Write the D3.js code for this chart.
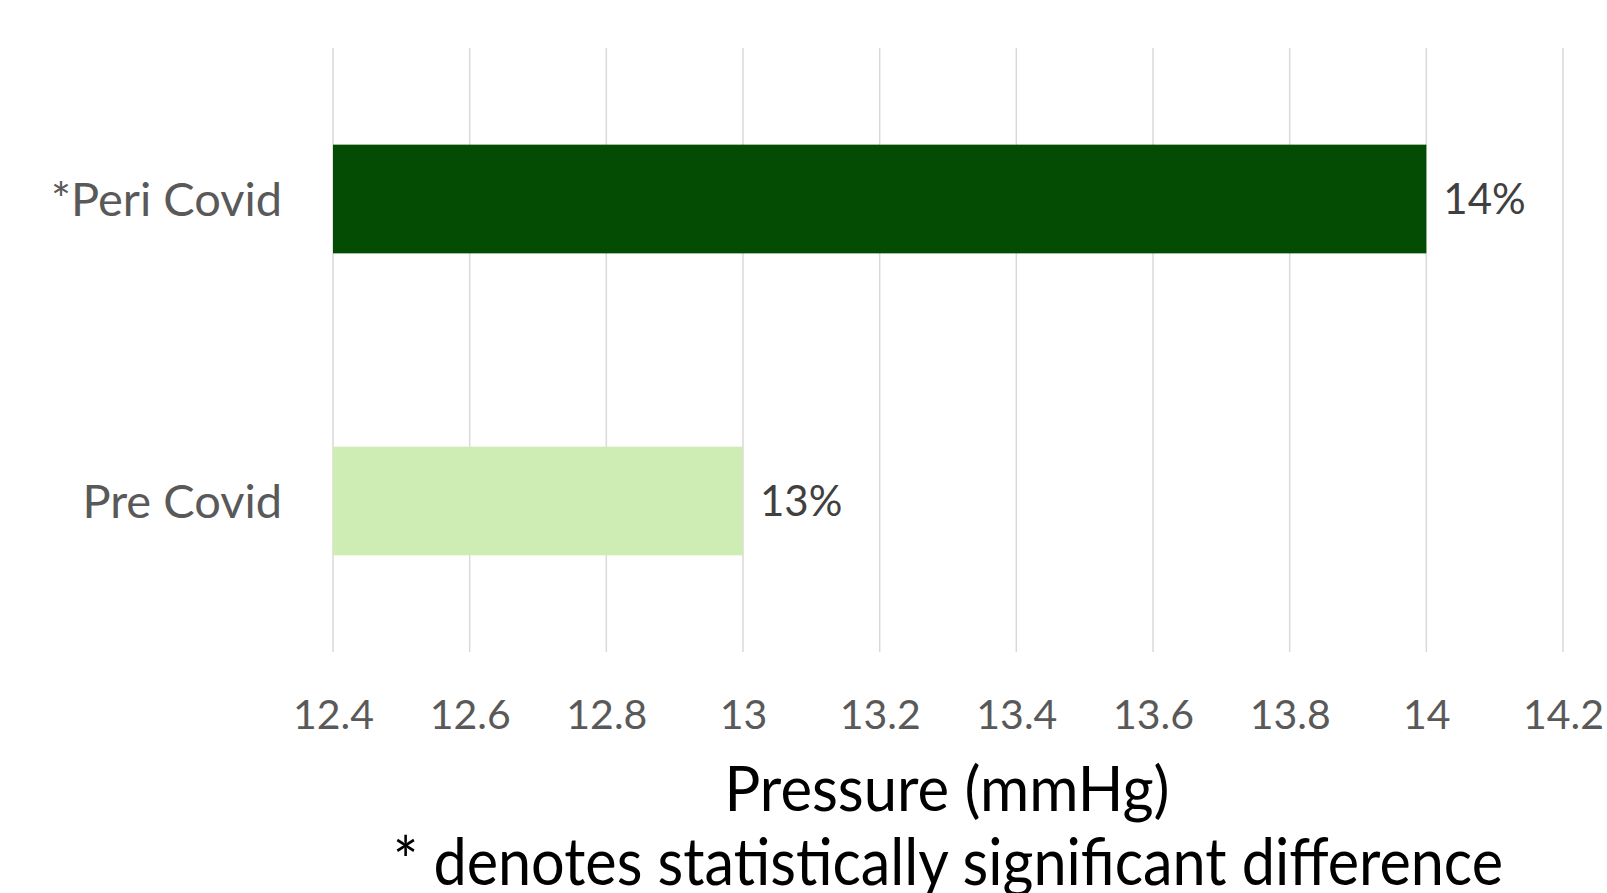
<!DOCTYPE html>
<html><head><meta charset="UTF-8"><style>
body { margin: 0; background: #fff; }
text { font-family: Lato, "Open Sans", sans-serif; }
</style>
</head>
<body>
<svg width="1607" height="893"></svg>
<script src="https://cdn.jsdelivr.net/npm/d3@7"></script>
<script>

var categories = ["*Peri Covid", "Pre Covid"];
var values = [14, 13];
var valueLabels = ["14%", "13%"];
var colors = ["#044c04", "#cdedb4"];
var ticks = [12.4, 12.6, 12.8, 13, 13.2, 13.4, 13.6, 13.8, 14, 14.2];
var xTitle = "Pressure (mmHg)";
var note = "* denotes statistically significant difference";

var svg = d3.select("svg"),
    margin = {top: 48, right: 44, bottom: 241, left: 333},
    width = +svg.attr("width") - margin.left - margin.right,
    height = +svg.attr("height") - margin.top - margin.bottom,
    g = svg.append("g").attr("transform", "translate(" + margin.left + "," + margin.top + ")");

var x = d3.scaleLinear()
    .domain([12.4, 14.2])
    .range([0, width]);

var y = d3.scaleBand()
    .domain(categories)
    .range([0, height])
    .paddingInner(0.64)
    .paddingOuter(0.32);

// gridlines
g.append("g")
  .selectAll("line")
  .data(ticks)
  .enter().append("line")
    .attr("x1", function(d) { return x(d); })
    .attr("x2", function(d) { return x(d); })
    .attr("y1", 0)
    .attr("y2", height)
    .attr("stroke", "#d9d9d9")
    .attr("stroke-width", 1.5);

// bars
g.append("g")
  .selectAll("rect")
  .data(categories)
  .enter().append("rect")
    .attr("x", x(12.4))
    .attr("y", function(d) { return y(d); })
    .attr("width", function(d, i) { return x(values[i]) - x(12.4); })
    .attr("height", y.bandwidth())
    .attr("fill", function(d, i) { return colors[i]; });

// value labels
g.append("g")
  .selectAll("text")
  .data(categories)
  .enter().append("text")
    .attr("x", function(d, i) { return x(values[i]) + 17; })
    .attr("y", function(d) { return y(d) + y.bandwidth() / 2; })
    .attr("dy", "0.36em")
    .attr("fill", "#404040")
    .attr("font-size", 42)
    .text(function(d, i) { return valueLabels[i]; });

// category axis
var yAxis = g.append("g")
    .call(d3.axisLeft(y).tickSize(0).tickPadding(51));
yAxis.select(".domain").remove();
yAxis.selectAll("text")
    .attr("font-size", 47)
    .attr("fill", "#595959")
    .attr("dy", "0.36em")
    .style("font-family", "Lato, 'Open Sans', sans-serif");

// value axis
var xAxis = g.append("g")
    .attr("transform", "translate(0," + height + ")")
    .call(d3.axisBottom(x).tickValues(ticks).tickFormat(d3.format("")).tickSize(0).tickPadding(48));
xAxis.select(".domain").remove();
xAxis.selectAll("text")
    .attr("font-size", 41)
    .attr("fill", "#595959")
    .style("font-family", "Lato, 'Open Sans', sans-serif");

svg.append("text")
    .attr("x", 947)
    .attr("y", 811)
    .attr("text-anchor", "middle")
    .attr("font-size", 62)
    .attr("textLength", 445)
    .attr("lengthAdjust", "spacingAndGlyphs")
    .attr("fill", "#000")
    .text(xTitle);

svg.append("text")
    .attr("x", 948)
    .attr("y", 885)
    .attr("text-anchor", "middle")
    .attr("font-size", 66)
    .attr("textLength", 1110)
    .attr("lengthAdjust", "spacingAndGlyphs")
    .attr("fill", "#000")
    .text(note);

</script>
</body></html>
